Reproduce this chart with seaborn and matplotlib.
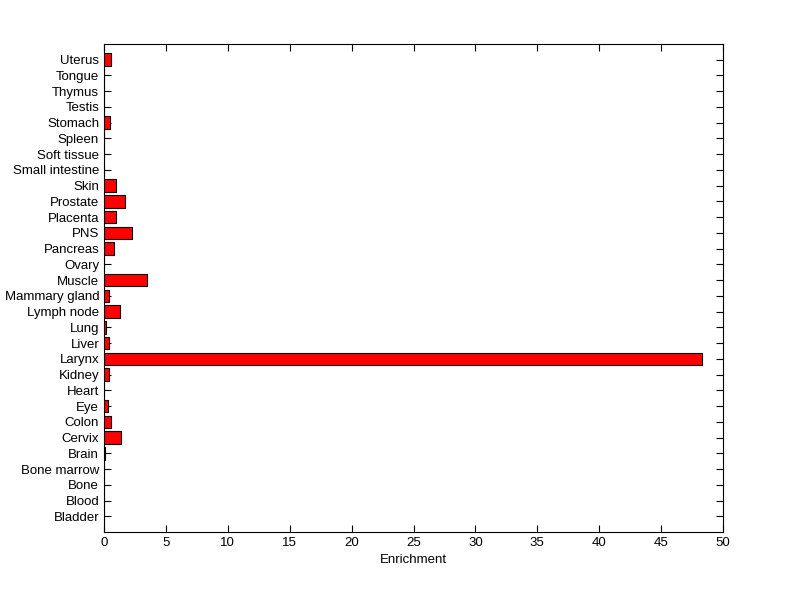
import numpy as np
import pandas as pd
import seaborn as sns
import matplotlib
matplotlib.use('Agg')
import matplotlib.pyplot as plt

# tissues, listed top to bottom as in the figure
tissues = ['Uterus', 'Tongue', 'Thymus', 'Testis', 'Stomach', 'Spleen',
           'Soft tissue', 'Small intestine', 'Skin', 'Prostate', 'Placenta',
           'PNS', 'Pancreas', 'Ovary', 'Muscle', 'Mammary gland',
           'Lymph node', 'Lung', 'Liver', 'Larynx', 'Kidney', 'Heart', 'Eye',
           'Colon', 'Cervix', 'Brain', 'Bone marrow', 'Bone', 'Blood',
           'Bladder']
enrichment = [0.57, 0, 0, 0, 0.5, 0, 0, 0, 1.0, 1.7, 1.0, 2.3, 0.8, 0, 3.5,
              0.4, 1.3, 0.15, 0.4, 48.3, 0.4, 0, 0.35, 0.55, 1.4, 0.1, 0, 0,
              0, 0]

df = pd.DataFrame({'tissue': tissues, 'enrichment': enrichment})

sns.set_style('white')
plt.rcParams['font.family'] = ['Liberation Sans', 'DejaVu Sans']

fig = plt.figure(figsize=(8, 5.99), dpi=100)
ax = fig.add_axes([104/800, 1 - 532/599, (723-104)/800, (532-44)/599])

sns.barplot(ax=ax, data=df, x='enrichment', y='tissue', orient='h',
            color='red', saturation=1, edgecolor='black', linewidth=0.8,
            width=0.8)

ax.set_xlim(0, 50)
ax.set_ylim(len(tissues), -1)
ax.set_xticks(np.arange(0, 51, 5))
ax.set_xlabel('Enrichment', fontsize=9.5, color='black')
ax.set_ylabel('')
ax.tick_params(axis='both', direction='in', length=5, width=0.8,
               labelsize=9.5, top=True, right=True, bottom=True, left=True,
               color='black', labelcolor='black')
for s in ax.spines.values():
    s.set_visible(True)
    s.set_color('black')
    s.set_linewidth(0.8)

fig.savefig('out.png', dpi=100)
